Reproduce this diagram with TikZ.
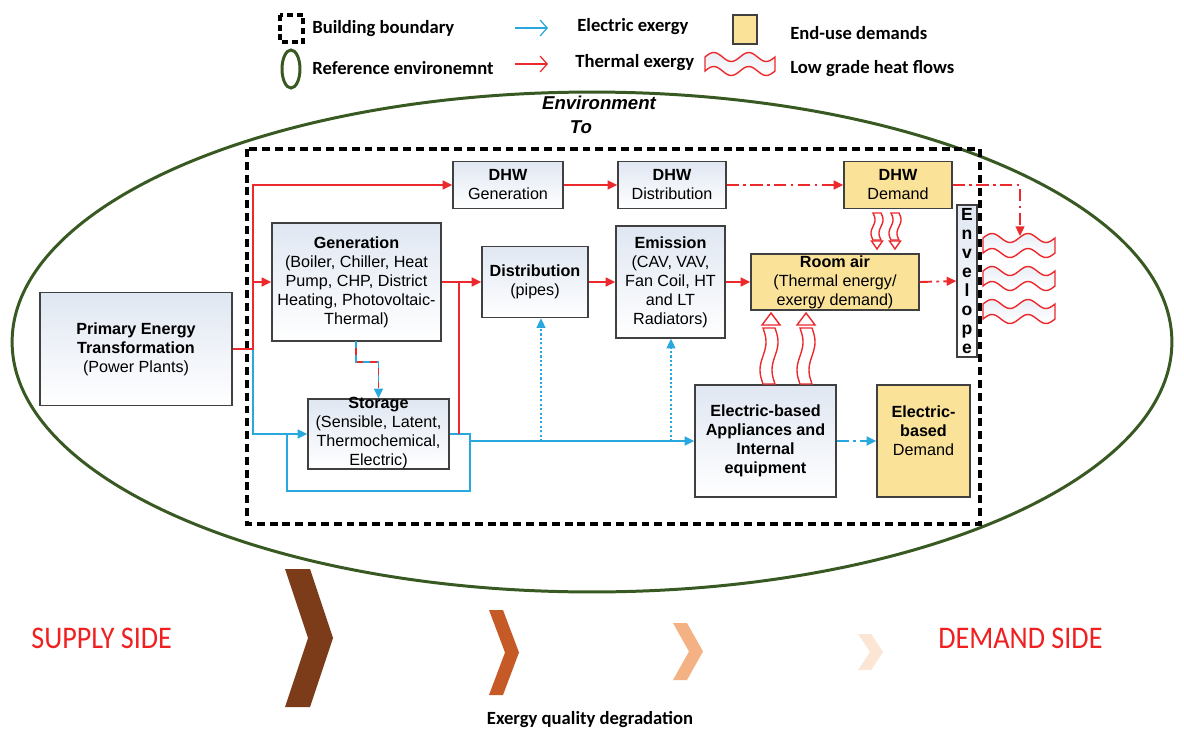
\documentclass[tikz,border=0pt]{standalone}
\usepackage{fontspec}
\setmainfont{Liberation Sans}
\newfontfamily\calib{Carlito}
\usetikzlibrary{arrows.meta,calc}
\definecolor{tred}{RGB}{236,42,46}
\definecolor{eblue}{RGB}{41,168,224}
\definecolor{egreen}{RGB}{56,90,34}
\definecolor{yfill}{RGB}{250,227,152}
\definecolor{boxtop}{RGB}{224,231,242}
\definecolor{boxline}{RGB}{64,64,64}
\definecolor{cbrown}{RGB}{124,60,26}
\definecolor{corange}{RGB}{197,90,38}
\definecolor{cpeach}{RGB}{244,178,132}
\definecolor{clight}{RGB}{251,229,213}
\definecolor{sidered}{RGB}{240,32,32}

% wavy banner: x0, width, y of top wave, height
\newcommand\heatbanner[4]{%
  \draw[draw=tred, line width=0.8pt, top color=boxtop!70, bottom color=white]
    plot[domain=0:#2, samples=40, smooth] ({#1+\x},{#3-4.5*sin(\x*(720/#2))})
    -- plot[domain=#2:0, samples=40, smooth] ({#1+\x},{#3+#4-4.5*sin(\x*(720/#2))}) -- cycle;}
% vertical wavy ribbon: cx, ytop, ybot, half width, amplitude
\newcommand\vribbon[5]{%
  \draw[draw=tred, line width=0.8pt, fill=white]
    plot[domain=#2:#3, samples=30, smooth] ({#1-#4+#5*sin((\x-#2)*(360/(#3-#2)))},\x)
    -- plot[domain=#3:#2, samples=30, smooth] ({#1+#4+#5*sin((\x-#2)*(360/(#3-#2)))},\x) -- cycle;}
% chevron: x0, top, bottom, tip x, band, colour
\newcommand\chevron[6]{%
  \fill[#6] (#1,#2) -- ({#1+#5},#2) -- (#4,{(#2+#3)/2}) -- ({#1+#5},#3) -- (#1,#3) -- ({#4-#5},{(#2+#3)/2}) -- cycle;}

\begin{document}
\begin{tikzpicture}[x=0.02cm,y=-0.02cm,
  boxfont/.style={font=\fontsize{9.2}{10.8}\selectfont},
  bx/.style={draw=boxline, line width=0.8pt, top color=boxtop, bottom color=white, align=center, inner sep=0pt, boxfont},
  ybx/.style={draw=boxline, line width=0.8pt, fill=yfill, align=center, inner sep=0pt, boxfont},
  txt/.style={align=center, inner sep=0pt, boxfont},
  headtip/.style={-{Triangle[length=5.5pt,width=5pt]}},
  thermal/.style={draw=tred, line width=1.1pt},
  elec/.style={draw=eblue, line width=1.1pt},
  dashdotline/.style={dash pattern=on 7pt off 2.5pt on 1.5pt off 2.5pt},
  edot/.style={draw=eblue, line width=0.9pt, dash pattern=on 1.2pt off 1.3pt},
  lgtext/.style={anchor=west, inner sep=0pt, font=\calib\bfseries\fontsize{10.6}{12}\selectfont},
  lgarrow/.style={line width=0.7pt, -{Straight Barb[length=4pt,width=9pt]}},
]
\useasboundingbox (0,0) rectangle (1184,734);
\fill[white] (0,0) rectangle (1184,734);

% ---------- legend ----------
\draw[black, line width=2pt, dash pattern=on 3.5pt off 2pt] (280,15) rectangle (303,42);
\node[lgtext] (lgb) at (312,29) {Building boundary};
\draw[egreen, line width=1.7pt] (291,69) ellipse [x radius=0.18cm, y radius=0.38cm];
\node[lgtext] (lgr) at (312,68) {Reference environemnt};
\coordinate (la1) at (515,28); \coordinate (la2) at (548,28);
\draw[eblue, lgarrow] (la1) -- (la2);
\node[lgtext] (lge) at (577,27) {Electric exergy};
\coordinate (lb1) at (515,64); \coordinate (lb2) at (548,64);
\draw[tred, lgarrow] (lb1) -- (lb2);
\node[lgtext] (lgt) at (575,63) {Thermal exergy};
\draw[boxline, line width=0.8pt, fill=yfill] (733,15) rectangle (757,44);
\node[lgtext] (lgd) at (790,33) {End-use demands};
\heatbanner{705}{70}{57}{14}
\node[lgtext] (lgh) at (790,69) {Low grade heat flows};

% ---------- environment ----------
\draw[egreen, line width=1.7pt] (592,342) ellipse [x radius=11.6cm, y radius=5cm];
\node[font=\bfseries\itshape\fontsize{10.6}{12}\selectfont] (envt) at (599,103) {Environment};
\node[font=\bfseries\itshape\fontsize{10.6}{12}\selectfont] (tot) at (581,127) {To};

% building boundary
\draw[black, line width=2.3pt, dash pattern=on 4.5pt off 2.8pt] (247,149) rectangle (980,524);

% ---------- boxes ----------
\node[bx, minimum width=3.84cm, minimum height=2.26cm] (prim) at (136,349)
  {\textbf{Primary Energy}\\\textbf{Transformation}\\(Power Plants)};
\node[bx, minimum width=2.2cm, minimum height=0.94cm] (dhwg) at (508,185) {\textbf{DHW}\\Generation};
\node[bx, minimum width=2.16cm, minimum height=0.94cm] (dhwd) at (672,185) {\textbf{DHW}\\Distribution};
\node[ybx, minimum width=2.16cm, minimum height=0.94cm] (dhwdem) at (898,185) {\textbf{DHW}\\Demand};
\node[bx, minimum width=3.38cm, minimum height=2.36cm] (gen) at (356.5,282)
  {\textbf{Generation}\\(Boiler, Chiller, Heat\\Pump, CHP, District\\Heating, Photovoltaic-\\Thermal)};
\node[bx, minimum width=2.12cm, minimum height=1.42cm] (dist) at (535,282) {\textbf{Distribution}\\(pipes)};
\node[bx, minimum width=2.18cm, minimum height=2.24cm] (emis) at (670.5,282)
  {\textbf{Emission}\\(CAV, VAV,\\Fan Coil, HT\\and LT\\Radiators)};
\node[ybx, minimum width=3.36cm, minimum height=1.12cm] (room) at (835,282)
  {\textbf{Room air}\\(Thermal energy/\\exergy demand)};
\node[bx, minimum width=0.4cm, minimum height=3.04cm, font=\bfseries\fontsize{10}{10.75}\selectfont] (env) at (967,281)
  {E\\n\\v\\e\\l\\o\\p\\e};
\node[bx, minimum width=2.82cm, minimum height=1.4cm] (stor) at (378.5,434) {};
\node[txt] (stort) at (378.5,433) {\textbf{Storage}\\(Sensible, Latent,\\Thermochemical,\\Electric)};
\node[bx, minimum width=2.82cm, minimum height=2.24cm] (appl) at (765.5,441)
  {\textbf{Electric-based}\\\textbf{Appliances and}\\\textbf{Internal}\\\textbf{equipment}};
\node[ybx, minimum width=1.86cm, minimum height=2.24cm] (edem) at (923.5,441) {};
\node[txt] (edemt) at (923.5,431) {\textbf{Electric-}\\\textbf{based}\\Demand};

% ---------- connectors ----------
\coordinate (jr) at (253,349);
\draw[elec, headtip] (jr) |- (stor.west);
\draw[thermal, headtip] (prim.east) -- (jr) |- (dhwg.west);
\draw[thermal, headtip] (jr |- gen.west) -- (gen.west);
\coordinate (sj) at (287,434);
\coordinate (sl) at (470,434);
\draw[elec] (stor.east) -- (sl) -- ++(0,57) -| (sj);
\coordinate (sr) at (459,434);
\draw[thermal] (sr) -- (sr |- gen.east);
\draw[thermal, headtip] (gen.east) -- (dist.west);
\coordinate (bl) at (470,441);
\draw[elec, headtip] (bl) -- (appl.west);
\coordinate (d1) at (541,441);
\coordinate (d2) at (671,441);
\draw[edot, headtip] (d1) -- (d1 |- dist.south);
\draw[edot, headtip] (d2) -- (d2 |- emis.south);
\draw[thermal, headtip] (dist.east) -- (emis.west);
\draw[thermal, headtip] (emis.east) -- (room.west);
\draw[thermal, headtip, dashdotline] (room.east) -- (env.west);
\draw[thermal, headtip] (dhwg.east) -- (dhwd.west);
\draw[thermal, headtip, dashdotline] (dhwd.east) -- (dhwdem.west);
\coordinate (hb) at (1020,236);
\draw[thermal, headtip, dashdotline] (dhwdem.east) -| (hb);
\draw[elec, headtip, dashdotline] (appl.east) -- (edem.west);
\coordinate (gs) at (356,341);
\draw[thermal, dash pattern=on 4pt off 4pt, dash phase=4pt, shorten >=6pt] (gs) -- ++(0,21) -| (stor.north);
\draw[elec, headtip, dash pattern=on 4pt off 4pt] (gs) -- ++(0,21) -| (stor.north);

% ---------- low grade heat flows ----------
\heatbanner{983}{72}{238}{15}
\heatbanner{983}{72}{271}{15}
\heatbanner{983}{72}{304}{15}
\vribbon{877}{213}{240}{4}{2}
\vribbon{895}{213}{240}{4}{2}
\draw[tred, line width=0.8pt, fill=white] (871.5,241) -- (882.5,241) -- (877,249) -- cycle;
\draw[tred, line width=0.8pt, fill=white] (889.5,241) -- (900.5,241) -- (895,249) -- cycle;
\vribbon{769}{328}{384}{6}{3}
\vribbon{806}{328}{384}{6}{3}
\draw[tred, line width=0.8pt, fill=white] (762,325) -- (780,325) -- (771,313) -- cycle;
\draw[tred, line width=0.8pt, fill=white] (797,325) -- (815,325) -- (806,313) -- cycle;

% ---------- bottom ----------
\chevron{285}{569}{707}{333}{25}{cbrown}
\chevron{489}{610}{695}{519}{14}{corange}
\chevron{673}{623}{680}{703}{14}{cpeach}
\chevron{858}{634}{670}{883}{13}{clight}
\node[anchor=west, inner sep=0pt, text=sidered, yscale=1.12, font=\calib\fontsize{16}{18}\selectfont] (sup) at (31,638) {SUPPLY SIDE};
\node[anchor=west, inner sep=0pt, text=sidered, yscale=1.12, font=\calib\fontsize{16}{18}\selectfont] (dem) at (938,638) {DEMAND SIDE};
\node[inner sep=0pt, font=\calib\bfseries\fontsize{10.6}{12}\selectfont] (deg) at (590,720) {Exergy quality degradation};
\end{tikzpicture}
\end{document}
